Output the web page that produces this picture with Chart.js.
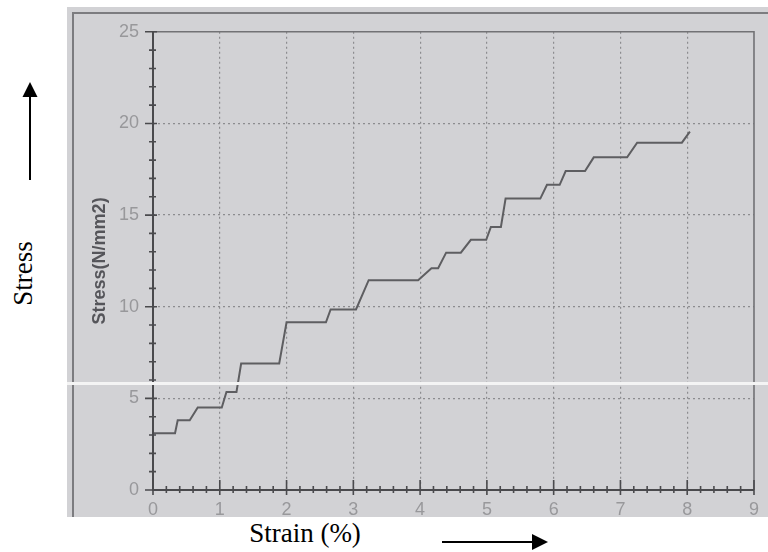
<!DOCTYPE html>
<html lang="en">
<head>
    <meta charset="UTF-8">
    <title>Stress - Strain</title>
    <style>
        body {
            margin: 0;
            width: 768px;
            height: 552px;
            background: #ffffff;
            position: relative;
            overflow: hidden;
            font-family: "Liberation Serif", "Times New Roman", serif;
        }
        .scan {
            position: absolute;
            left: 67px;
            top: 7px;
            width: 701px;
            height: 510px;
            background: #d2d2d5;
            overflow: hidden;
        }
        .frame {
            position: absolute;
            left: 5px;
            top: 5px;
            right: -10px;
            bottom: -10px;
            border-left: 2px solid #7c7c7f;
            border-top: 2px solid #7c7c7f;
        }
        .scan canvas {
            position: absolute;
            left: 0;
            top: 0;
        }
        .streak {
            position: absolute;
            left: 0;
            right: 0;
            top: 375px;
            height: 3px;
            background: #f4f4f4;
        }
        .side-label {
            position: absolute;
            height: 27px;
            line-height: 27px;
            font-size: 27px;
            color: #000;
            text-align: center;
            white-space: nowrap;
        }
        #stressText {
            left: -27.5px;
            top: 259.5px;
            width: 100px;
            transform: rotate(-90deg);
        }
        #strainText {
            left: 205px;
            top: 519.5px;
            width: 200px;
        }
        svg.arrows {
            position: absolute;
            left: 0;
            top: 0;
        }
    </style>
    <script src="https://cdn.jsdelivr.net/npm/chart.js"></script>
</head>
<body>
    <div class="scan">
        <div class="frame"></div>
        <canvas id="stressChart" width="701" height="510"></canvas>
        <div class="streak"></div>
    </div>

    <div class="side-label" id="stressText">Stress</div>
    <div class="side-label" id="strainText">Strain (%)</div>

    <svg class="arrows" width="768" height="552">
        <line x1="30" y1="180" x2="30" y2="95" stroke="#000" stroke-width="2"/>
        <polygon points="22.5,97 37.5,97 30,82" fill="#000"/>
        <line x1="442" y1="542" x2="534" y2="542" stroke="#000" stroke-width="2"/>
        <polygon points="532,534 532,550 548,542" fill="#000"/>
    </svg>

    <script>
        // stepped stress/strain record (corner points of the trace)
        const strain = [0, 0.33, 0.37, 0.55, 0.67, 1.03, 1.1, 1.25, 1.32, 1.89, 2.0, 2.59, 2.66, 3.04, 3.23, 3.97,
                        4.17, 4.27, 4.39, 4.61, 4.76, 4.99, 5.06, 5.21, 5.28, 5.8, 5.9, 6.09, 6.18, 6.47, 6.6, 7.1,
                        7.25, 7.92, 8.04];
        const stress = [3.1, 3.1, 3.8, 3.8, 4.5, 4.5, 5.35, 5.35, 6.9, 6.9, 9.15, 9.15, 9.85, 9.85, 11.45, 11.45,
                        12.1, 12.1, 12.95, 12.95, 13.65, 13.65, 14.35, 14.35, 15.9, 15.9, 16.65, 16.65, 17.4, 17.4, 18.15, 18.15,
                        18.95, 18.95, 19.55];
        const strainTicks = [0, 1, 2, 3, 4, 5, 6, 7, 8, 9];
        const stressTicks = [0, 5, 10, 15, 20, 25];
        const strainMinor = 0.2;
        const stressMinor = 1;

        const tickFont = { family: 'Liberation Sans', size: 18 };
        const hidden = 'rgba(0,0,0,0)';

        // axis lines, plot frame and the small tick marks crossing the axes
        const axesFrame = {
            id: 'axesFrame',
            afterDraw(chart) {
                const { ctx, chartArea: a, scales: { x, y } } = chart;
                ctx.save();

                ctx.strokeStyle = '#727275';
                ctx.lineWidth = 1.6;
                ctx.beginPath();
                ctx.moveTo(a.left, a.top);
                ctx.lineTo(a.right, a.top);
                ctx.lineTo(a.right, a.bottom);
                ctx.stroke();

                ctx.strokeStyle = '#4a4a4d';
                ctx.lineWidth = 2;
                ctx.beginPath();
                ctx.moveTo(a.left, a.top);
                ctx.lineTo(a.left, a.bottom);
                ctx.lineTo(a.right, a.bottom);
                ctx.stroke();

                ctx.lineWidth = 1.6;
                ctx.beginPath();
                const yMax = stressTicks[stressTicks.length - 1];
                for (let i = 0; i * stressMinor <= yMax; i++) {
                    const v = i * stressMinor;
                    const py = y.getPixelForValue(v);
                    const major = stressTicks.includes(v);
                    ctx.moveTo(a.left - (major ? 8 : 4), py);
                    ctx.lineTo(a.left + (major ? 4 : 3), py);
                }
                const xMax = strainTicks[strainTicks.length - 1];
                for (let i = 0; i * strainMinor <= xMax + 1e-6; i++) {
                    const v = Math.round(i * strainMinor * 10) / 10;
                    const px = x.getPixelForValue(v);
                    const major = strainTicks.includes(v);
                    ctx.moveTo(px, a.bottom + (major ? 5 : 3));
                    ctx.lineTo(px, a.bottom - (major ? 10 : 4));
                }
                ctx.stroke();
                ctx.restore();
            }
        };

        const ctx = document.getElementById('stressChart').getContext('2d');
        new Chart(ctx, {
            type: 'scatter',
            data: {
                datasets: [{
                    data: strain.map((v, i) => ({ x: v, y: stress[i] })),
                    showLine: true,
                    borderColor: '#5e5e61',
                    borderWidth: 2,
                    pointRadius: 0,
                    tension: 0
                }]
            },
            options: {
                responsive: false,
                animation: false,
                layout: { padding: { left: 3, top: 18, right: 10, bottom: 0 } },
                plugins: {
                    legend: { display: false },
                    tooltip: { enabled: false }
                },
                scales: {
                    x: {
                        type: 'linear',
                        min: strainTicks[0],
                        max: strainTicks[strainTicks.length - 1],
                        afterBuildTicks: s => { s.ticks = strainTicks.map(v => ({ value: v })); },
                        afterFit: s => { s.height = 27; },
                        ticks: { color: '#98989b', font: tickFont, padding: 9 },
                        grid: {
                            drawTicks: false,
                            lineWidth: 1.2,
                            color: c => (c.tick && (c.tick.value === 0 || c.tick.value === 9)) ? hidden : '#8c8c8f'
                        },
                        border: { display: false, dash: [2, 3] }
                    },
                    y: {
                        type: 'linear',
                        min: stressTicks[0],
                        max: stressTicks[stressTicks.length - 1],
                        afterBuildTicks: s => { s.ticks = stressTicks.map(v => ({ value: v })); },
                        afterFit: s => { s.width = 83; },
                        ticks: { color: '#98989b', font: tickFont, padding: 14 },
                        grid: {
                            drawTicks: false,
                            lineWidth: 1.2,
                            color: c => (c.tick && (c.tick.value === 0 || c.tick.value === 25)) ? hidden : '#8c8c8f'
                        },
                        border: { display: false, dash: [2, 3] },
                        title: {
                            display: true,
                            text: 'Stress(N/mm2)',
                            color: '#55555a',
                            font: { family: 'Liberation Sans', size: 18, weight: 'bold' },
                            padding: { top: 19, bottom: 0 }
                        }
                    }
                }
            },
            plugins: [axesFrame]
        });
    </script>
</body>
</html>
